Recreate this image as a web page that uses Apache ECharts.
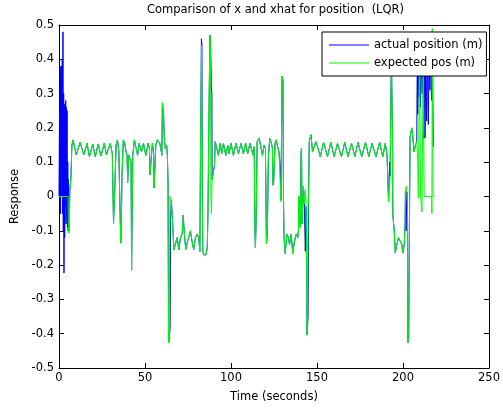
<!DOCTYPE html>
<html>
<head>
<meta charset="utf-8">
<script src="https://cdn.jsdelivr.net/npm/echarts@6/dist/echarts.min.js"></script>
<style>html,body{margin:0;padding:0;background:#fff}#c{width:503px;height:410px}</style>
</head>
<body>
<div id="c"></div>
<script>
const xTicks = [0, 50, 100, 150, 200, 250];
const yTicks = [-0.5, -0.4, -0.3, -0.2, -0.1, 0, 0.1, 0.2, 0.3, 0.4, 0.5];
const seriesNames = ['actual position (m)', 'expected pos (m)'];

const expectedTime = [
0, 5.3, 5.5, 6.0, 6.3, 6.9, 7.5, 8.2, 10.0, 12.3,
14.4, 16.3, 17.7, 19.6, 21.1, 22.8, 24.4, 26.3, 27.6, 29.8,
31.0, 31.5, 31.7, 32.2, 32.5, 33.2, 34.0, 34.8, 35.1, 35.6,
35.9, 36.2, 36.6, 37.4, 38.2, 39.0, 39.6, 39.9, 40.3, 40.6,
41.3, 41.9, 42.2, 42.6, 42.9, 43.8, 45.7, 46.6, 48.0, 49.1,
50.5, 51.8, 52.6, 52.9, 53.3, 54.3, 55.0, 55.3, 55.7, 56.3,
57.2, 58.6, 59.5, 59.8, 60.1, 60.5, 60.8, 61.2, 61.8, 62.6,
63.0, 63.4, 63.7, 64.1, 64.5, 65.3, 66.0, 66.8, 67.8, 68.7,
69.7, 70.6, 71.6, 72.2, 72.9, 73.7, 74.5, 75.4, 76.4, 77.3,
78.3, 79.3, 80.3, 81.2, 81.9, 82.2, 82.6, 82.8, 83.1, 83.3,
83.6, 84.1, 85.4, 86.2, 86.6, 87.5, 87.7, 88.0, 88.3, 88.6,
89.0, 89.8, 90.4, 90.8, 91.8, 92.7, 93.7, 94.6, 95.6, 97.0,
98.1, 98.9, 100.0, 101.4, 102.9, 104.3, 105.8, 107.2, 108.5, 109.7,
111.0, 112.0, 112.9, 113.5, 113.9, 114.2, 114.6, 115.2, 116.4, 117.1,
118.3, 119.2, 120.0, 120.6, 121.0, 121.2, 121.7, 122.5, 123.5, 124.1,
124.4, 124.8, 125.1, 125.6, 126.3, 126.9, 127.9, 128.6, 129.0, 129.4,
129.7, 130.2, 130.5, 130.8, 131.5, 132.5, 133.4, 134.0, 135.0, 135.9,
136.9, 137.9, 138.8, 139.2, 139.4, 139.8, 140.3, 140.7, 141.0, 141.3,
142.1, 142.6, 143.2, 143.7, 144.0, 144.2, 144.5, 144.8, 145.1, 145.5,
146.5, 147.4, 148.4, 149.3, 150.3, 151.2, 151.9, 153.8, 156.1, 158.0,
160.0, 161.9, 164.2, 166.1, 168.0, 170.1, 172.0, 173.8, 176.0, 178.2,
180.1, 182.0, 184.3, 186.4, 188.2, 189.7, 190.7, 191.2, 191.6, 192.2,
192.5, 193.0, 193.3, 193.5, 193.8, 194.1, 194.9, 195.5, 196.4, 197.4,
198.3, 199.3, 199.9, 200.7, 201.2, 201.4, 201.8, 202.2, 202.6, 202.8,
203.3, 203.7, 204.1, 205.1, 205.6, 206.4, 207.2, 208.0, 208.6, 208.9,
209.3, 209.6, 209.9, 210.2, 211.0, 211.4, 211.7, 212.0, 212.3, 216.6,
216.8, 217.0, 217.2, 217.5, 218.3
];
const expectedPos = [
0, 0, -0.107, -0.1, 0.02, 0.05, 0.15, 0.165, 0.121, 0.158,
0.121, 0.155, 0.116, 0.153, 0.116, 0.153, 0.118, 0.155, 0.121, 0.155,
0.125, 0.12, -0.08, -0.08, 0.03, 0.15, 0.165, 0.13, 0.05, 0.05,
-0.136, -0.1, 0.06, 0.165, 0.155, 0.13, 0.12, 0.04, 0.04, 0.12,
0.11, 0.1, -0.215, -0.21, 0.12, 0.165, 0.12, 0.155, 0.13, 0.155,
0.12, 0.155, 0.14, 0.063, 0.063, 0.155, 0.13, 0.025, 0.03, 0.15,
0.165, 0.155, 0.13, 0.12, 0.273, 0.27, 0.24, 0.17, 0.14, 0.15,
0.12, 0.04, -0.427, -0.42, 0.0, -0.01, -0.07, -0.155, -0.15, -0.12,
-0.155, -0.12, -0.11, -0.055, -0.11, -0.155, -0.135, -0.12, -0.1, -0.13,
-0.155, -0.12, -0.11, -0.12, -0.16, 0.09, 0.09, 0.44, 0.44, 0.0,
-0.16, -0.17, -0.17, -0.15, -0.05, -0.05, 0.47, 0.46, 0.0, -0.05,
0.05, 0.05, 0.09, 0.16, 0.16, 0.12, 0.155, 0.125, 0.155, 0.12,
0.15, 0.125, 0.155, 0.12, 0.155, 0.125, 0.155, 0.125, 0.155, 0.125,
0.155, 0.15, 0.12, 0.145, -0.1, -0.15, -0.07, 0.16, 0.17, 0.15,
0.12, 0.15, 0.14, -0.137, -0.12, -0.08, 0.11, 0.17, 0.155, 0.14,
0.033, 0.04, 0.08, 0.155, 0.165, 0.15, 0.13, 0.13, -0.015, -0.015,
0.35, 0.34, 0.0, -0.117, -0.166, -0.11, -0.12, -0.14, -0.11, -0.166,
-0.13, -0.11, -0.12, -0.1, 0.0, -0.08, -0.09, 0.13, 0.14, -0.08,
0.03, -0.02, 0.02, -0.03, -0.03, -0.404, -0.4, -0.04, 0.0, 0.16,
0.18, 0.13, 0.13, 0.16, 0.155, 0.13, 0.116, 0.158, 0.116, 0.158,
0.116, 0.155, 0.116, 0.158, 0.116, 0.155, 0.116, 0.158, 0.116, 0.158,
0.116, 0.155, 0.116, 0.158, 0.116, 0.155, 0.12, 0.12, -0.015, -0.01,
0.06, 0.316, 0.4, 0.4, 0.19, -0.054, -0.1, -0.165, -0.14, -0.12,
-0.12, -0.14, -0.165, -0.14, -0.08, 0.014, 0.03, 0.014, -0.02, -0.427,
-0.41, -0.11, 0.174, 0.2, 0.18, 0.131, 0.15, 0.16, 0.1, -0.005,
-0.005, 0.45, 0.45, 0.0, -0.045, -0.045, 0.4, 0.4, 0.0, 0.0,
-0.05, 0.49, 0.49, 0.0, 0.0
];

const actualTime = [
0, 0.3, 0.5, 0.7, 0.9, 1.1, 1.3, 1.5, 1.7, 1.9,
2.1, 2.3, 2.5, 2.7, 2.9, 3.1, 3.3, 3.5, 3.7, 3.9,
4.1, 4.3, 4.5, 4.7, 4.9, 5.1, 5.3, 5.5, 5.8, 6.0,
6.3, 6.9, 7.5, 8.2, 10.0, 12.3,
14.4, 16.3, 17.7, 19.6, 21.1, 22.8, 24.4, 26.3, 27.6, 29.8,
31.0, 31.5, 31.7, 32.2, 32.5, 33.2, 34.0, 34.8, 35.1, 35.6,
35.9, 36.2, 36.6, 37.4, 38.2, 39.0, 39.6, 39.9, 40.3, 40.6,
41.3, 41.9, 42.2, 42.6, 42.9, 43.8, 45.7, 46.6, 48.0, 49.1,
50.5, 51.8, 52.6, 52.9, 53.3, 54.3, 55.0, 55.3, 55.7, 56.3,
57.2, 58.6, 59.5, 59.8, 60.1, 60.5, 60.8, 61.2, 61.8, 62.6,
63.0, 63.4, 63.7, 64.1, 64.6, 64.9, 65.3, 66.0, 66.8, 67.8, 68.7,
69.7, 70.6, 71.6, 72.2, 72.9, 73.7, 74.5, 75.4, 76.4, 77.3,
78.3, 79.3, 80.3, 81.2, 81.9, 82.2, 82.6, 82.8, 83.1, 83.3,
83.6, 84.1, 85.4, 86.2, 86.6, 87.5, 87.7, 88.0, 88.3, 88.6, 88.9,
89.0, 89.8, 90.4, 90.8, 91.8, 92.7, 93.7, 94.6, 95.6, 97.0,
98.1, 98.9, 100.0, 101.4, 102.9, 104.3, 105.8, 107.2, 108.5, 109.7,
111.0, 112.0, 112.9, 113.5, 113.9, 114.2, 114.6, 115.2, 116.4, 117.1,
118.3, 119.2, 120.0, 120.6, 121.0, 121.2, 121.7, 122.5, 123.5, 124.1,
124.4, 124.8, 125.1, 125.6, 126.3, 126.9, 127.9, 128.6, 129.0, 129.4,
129.7, 130.2, 130.5, 130.8, 131.5, 132.5, 133.4, 134.0, 135.0, 135.9,
136.9, 137.9, 138.8, 139.2, 139.4, 139.8, 140.3, 140.7, 141.0, 141.3,
142.1, 142.6, 143.2, 143.7, 144.0, 144.2, 144.5, 144.8, 145.1, 145.5,
146.5, 147.4, 148.4, 149.3, 150.3, 151.2, 151.9, 153.8, 156.1, 158.0,
160.0, 161.9, 164.2, 166.1, 168.0, 170.1, 172.0, 173.8, 176.0, 178.2,
180.1, 182.0, 184.3, 186.4, 188.2, 189.7, 190.7, 191.2, 191.6, 192.2,
192.5, 193.0, 193.3, 193.5, 193.8, 194.1, 194.9, 195.5, 196.4, 197.4,
198.3, 199.3, 199.9, 200.7, 201.2, 201.4, 201.8, 202.2, 202.6, 202.8,
203.3, 203.7, 204.1, 205.1, 205.6, 206.4, 207.2, 208.0,
208.3, 208.6, 208.9, 209.3, 209.7, 210.2, 210.6, 211.2, 211.6, 212.0,
212.4, 212.8, 213.3, 213.7, 214.2, 214.7, 215.2, 215.6, 216.0, 216.6,
217.1, 217.6, 218.0
];
const actualPos = [
0, 0.25, 0.02, 0.38, -0.05, 0.36, 0.0, 0.38, 0.08, 0.4,
-0.05, 0.48, -0.1, 0.3, -0.223, 0.27, -0.12, 0.26, -0.03, 0.28,
-0.08, 0.26, -0.06, 0.25, -0.09, 0.1, -0.1, 0.05, -0.1, -0.1,
0.02, 0.05, 0.15, 0.165, 0.121, 0.158,
0.121, 0.155, 0.116, 0.153, 0.116, 0.153, 0.118, 0.155, 0.121, 0.155,
0.125, 0.12, -0.08, -0.08, 0.03, 0.15, 0.165, 0.13, 0.05, 0.05,
-0.136, -0.1, 0.06, 0.165, 0.155, 0.13, 0.12, 0.04, 0.04, 0.12,
0.11, 0.1, -0.215, -0.21, 0.12, 0.165, 0.12, 0.155, 0.13, 0.155,
0.12, 0.155, 0.14, 0.063, 0.063, 0.155, 0.13, 0.025, 0.03, 0.15,
0.165, 0.155, 0.13, 0.12, 0.273, 0.27, 0.24, 0.17, 0.14, 0.15,
0.12, 0.04, -0.427, -0.42, -0.38, -0.06, -0.01, -0.07, -0.155, -0.15, -0.12,
-0.155, -0.12, -0.11, -0.055, -0.11, -0.155, -0.135, -0.12, -0.1, -0.13,
-0.155, -0.12, -0.11, -0.12, -0.16, 0.09, 0.09, 0.46, 0.44, 0.0,
-0.16, -0.17, -0.17, -0.15, -0.05, -0.05, 0.47, 0.46, 0.40, 0.32, 0.3,
0.05, 0.05, 0.09, 0.16, 0.16, 0.12, 0.155, 0.125, 0.155, 0.12,
0.15, 0.125, 0.155, 0.12, 0.155, 0.125, 0.155, 0.125, 0.155, 0.125,
0.155, 0.15, 0.12, 0.145, -0.1, -0.15, -0.07, 0.16, 0.17, 0.15,
0.12, 0.15, 0.14, -0.137, -0.12, -0.08, 0.11, 0.17, 0.155, 0.14,
0.033, 0.04, 0.08, 0.155, 0.165, 0.15, 0.13, 0.09, -0.01, -0.015,
0.35, 0.34, 0.0, -0.117, -0.166, -0.11, -0.12, -0.14, -0.11, -0.166,
-0.13, -0.11, -0.12, -0.1, 0.0, -0.08, -0.09, 0.13, 0.14, -0.08,
0.03, -0.02, -0.16, -0.03, -0.03, -0.404, -0.4, -0.35, 0.0, 0.16,
0.18, 0.13, 0.13, 0.16, 0.155, 0.13, 0.116, 0.158, 0.116, 0.158,
0.116, 0.155, 0.116, 0.158, 0.116, 0.155, 0.116, 0.158, 0.116, 0.158,
0.116, 0.155, 0.116, 0.158, 0.116, 0.155, 0.12, 0.12, -0.015, 0.1,
0.06, 0.316, 0.4, 0.4, 0.19, -0.054, -0.1, -0.165, -0.14, -0.12,
-0.12, -0.14, -0.165, -0.14, -0.08, 0.014, -0.1, 0.014, -0.02, -0.427,
-0.41, -0.11, 0.174, 0.2, 0.18, 0.131, 0.15, 0.16,
0.42, 0.24, 0.42, 0.29, 0.42, 0.26, 0.42, 0.30, 0.42, 0.17,
0.42, 0.17, 0.42, 0.22, 0.42, 0.21, 0.42, 0.31, 0.42, 0.28,
0.42, 0.145, 0.145
];

const FONT = 'DejaVu Sans';
const FS = 11.5;
const zip = (t, v) => t.map((x, i) => [x, v[i]]);

const chart = echarts.init(document.getElementById('c'), null, {renderer: 'canvas'});
const axisCommon = {
  type: 'value',
  axisLine: {show: true, onZero: false, lineStyle: {color: '#000', width: 1}},
  axisTick: {show: true, inside: true, length: 5, lineStyle: {color: '#000', width: 1}},
  splitLine: {show: false},
  axisLabel: {color: '#000', fontSize: FS, fontFamily: FONT}
};
const yFmt = v => String(Math.round(v * 10) / 10);

chart.setOption({
  animation: false,
  backgroundColor: '#fff',
  textStyle: {fontFamily: FONT},
  title: {
    text: 'Comparison of x and xhat for position  (LQR)',
    left: 147, top: 4, padding: 0,
    textStyle: {fontSize: FS, fontWeight: 'normal', color: '#000', fontFamily: FONT}
  },
  legend: {
    orient: 'vertical', left: 322, top: 32,
    padding: [6, 4, 6, 7],
    icon: 'rect',
    itemWidth: 40, itemHeight: 1, itemGap: 4,
    backgroundColor: '#fff', borderColor: '#000', borderWidth: 1,
    textStyle: {fontSize: FS, color: '#000', fontFamily: FONT, lineHeight: 14},
    data: seriesNames
  },
  grid: {left: 59, right: 10, top: 25, bottom: 42},
  xAxis: [
    Object.assign({}, axisCommon, {
      min: xTicks[0], max: xTicks[xTicks.length - 1], interval: xTicks[1] - xTicks[0],
      position: 'bottom',
      name: 'Time (seconds)', nameLocation: 'middle', nameGap: 23,
      nameTextStyle: {color: '#000', fontSize: FS, fontFamily: FONT},
      axisLabel: Object.assign({}, axisCommon.axisLabel, {margin: 4})
    }),
    Object.assign({}, axisCommon, {
      min: xTicks[0], max: xTicks[xTicks.length - 1], interval: xTicks[1] - xTicks[0],
      position: 'top', axisLabel: {show: false}
    })
  ],
  yAxis: [
    Object.assign({}, axisCommon, {
      min: yTicks[0], max: yTicks[yTicks.length - 1], interval: 0.1,
      position: 'left',
      name: 'Response', nameLocation: 'middle', nameGap: 30,
      nameTextStyle: {color: '#000', fontSize: FS, fontFamily: FONT},
      axisLabel: Object.assign({}, axisCommon.axisLabel, {margin: 5, formatter: yFmt})
    }),
    Object.assign({}, axisCommon, {
      min: yTicks[0], max: yTicks[yTicks.length - 1], interval: 0.1,
      position: 'right', axisLabel: {show: false}
    })
  ],
  series: [
    {
      name: seriesNames[0], type: 'line', xAxisIndex: 0, yAxisIndex: 0,
      data: zip(actualTime, actualPos),
      symbol: 'none', showSymbol: false, clip: true,
      lineStyle: {color: '#0000ff', width: 1}, itemStyle: {color: '#0000ff'}
    },
    {
      name: seriesNames[1], type: 'line', xAxisIndex: 0, yAxisIndex: 0,
      data: zip(expectedTime, expectedPos),
      symbol: 'none', showSymbol: false, clip: true,
      lineStyle: {color: '#00ff00', width: 1}, itemStyle: {color: '#00ff00'}
    }
  ]
});
</script>
</body>
</html>
